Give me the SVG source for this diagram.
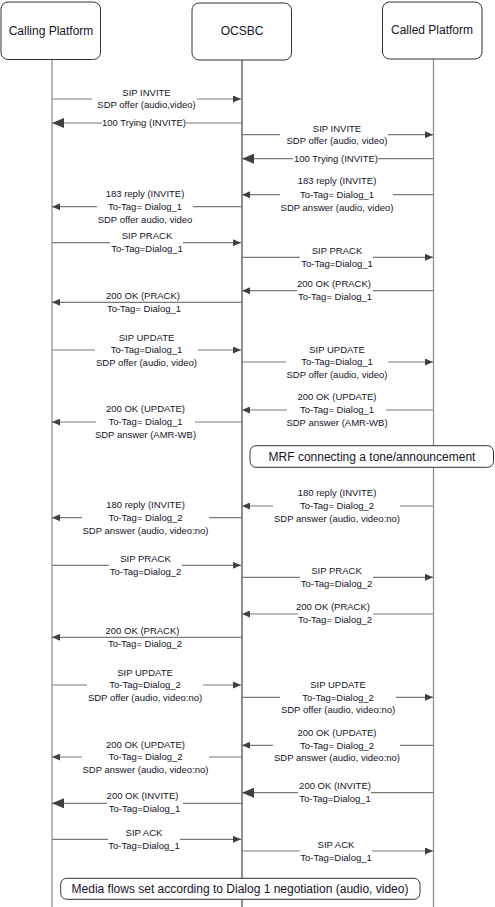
<svg xmlns="http://www.w3.org/2000/svg" width="495" height="907" viewBox="0 0 495 907">
<style>
.box{fill:#fff;stroke:#333;stroke-width:1}
.life{stroke:#8a8a8a;stroke-width:1.2;fill:none}
.lifec{stroke:#444;stroke-width:1.2;fill:none}
.msg{stroke:#7a7a7a;stroke-width:1.2;fill:none}
.s{marker-end:url(#as)}
.b{marker-end:url(#ab)}
text{font-family:"Liberation Sans",Arial,sans-serif;fill:#141428}
.t{font-size:9.5px;text-anchor:middle}
.h{font-size:12px;text-anchor:middle}
</style>
<defs>
<marker id="as" markerUnits="userSpaceOnUse" markerWidth="8" markerHeight="7" refX="8" refY="3.5" orient="auto"><path d="M0,0 L8,3.5 L0,7 z" fill="#404040"/></marker>
<marker id="ab" markerUnits="userSpaceOnUse" markerWidth="12" markerHeight="10" refX="12" refY="5" orient="auto"><path d="M0,0 L12,5 L0,10 z" fill="#404040"/></marker>
</defs>
<rect width="495" height="907" fill="#fff"/>
<g id="lifelines">
<line class="life" x1="52" y1="59.5" x2="52" y2="907"/>
<line class="lifec" x1="242" y1="60" x2="242" y2="907"/>
<line class="life" x1="433.5" y1="59" x2="433.5" y2="907"/>
</g>
<g id="calling"><rect class="box" x="1" y="2" width="99.5" height="57.5" rx="7"/><text class="h" x="51" y="35">Calling Platform</text></g>
<g id="ocsbc"><rect class="box" x="192" y="3" width="99.5" height="57" rx="7"/><text class="h" x="242" y="35.3">OCSBC</text></g>
<g id="called"><rect class="box" x="382.5" y="2" width="99.5" height="57" rx="7"/><text class="h" x="432" y="34.3">Called Platform</text></g>
<g id="connectors">
<path class="msg s" d="M52 99 H92 M197 99 H241"/>
<path class="msg b" d="M242 123 H186 M102 123 H52"/>
<path class="msg s" d="M242 134.7 H280 M388 134.7 H433"/>
<path class="msg b" d="M433 158.7 H378 M293 158.7 H242"/>
<path class="msg s" d="M433 194.7 H393 M280 194.7 H242"/>
<path class="msg s" d="M242 206.7 H193 M97 206.7 H52"/>
<path class="msg s" d="M52 242.7 H110 M183 242.7 H241"/>
<path class="msg s" d="M242 257.3 H300 M373 257.3 H433"/>
<path class="msg s" d="M433 290.7 H373 M297 290.7 H242"/>
<path class="msg s" d="M242 302.3 H52"/>
<path class="msg s" d="M52 350 H95 M198 350 H241"/>
<path class="msg s" d="M242 362 H286 M388 362 H433"/>
<path class="msg s" d="M433 410 H386 M287 410 H242"/>
<path class="msg s" d="M242 422 H195 M96 422 H52"/>
<path class="msg s" d="M433 506 H400 M273 506 H242"/>
<path class="msg s" d="M242 517.7 H209 M82 517.7 H52"/>
<path class="msg s" d="M52 565.3 H109 M182 565.3 H241"/>
<path class="msg s" d="M242 577.3 H300 M373 577.3 H433"/>
<path class="msg s" d="M433 614 H373 M298 614 H242"/>
<path class="msg s" d="M242 637.3 H52"/>
<path class="msg s" d="M52 685 H87 M203 685 H241"/>
<path class="msg s" d="M242 697.3 H280 M396 697.3 H433"/>
<path class="msg s" d="M433 745.3 H400 M273 745.3 H242"/>
<path class="msg s" d="M242 757 H209 M82 757 H52"/>
<path class="msg b" d="M433 792.7 H371 M298 792.7 H242"/>
<path class="msg b" d="M242 803.3 H183 M107 803.3 H52"/>
<path class="msg s" d="M52 839.3 H108 M180 839.3 H241"/>
<path class="msg s" d="M242 851 H300 M372 851 H433"/>
</g>
<g id="labels">
<text class="t" x="146.5" y="95.6">SIP INVITE</text>
<text class="t" x="146.5" y="108.3">SDP offer (audio,video)</text>
<text class="t" x="144" y="126.3">100 Trying (INVITE)</text>
<text class="t" x="337" y="131.6">SIP INVITE</text>
<text class="t" x="337" y="144">SDP offer (audio, video)</text>
<text class="t" x="336" y="162">100 Trying (INVITE)</text>
<text class="t" x="337" y="184.3">183 reply (INVITE)</text>
<text class="t" x="337" y="198">To-Tag= Dialog_1</text>
<text class="t" x="337" y="211">SDP answer (audio, video)</text>
<text class="t" x="145" y="196.6">183 reply (INVITE)</text>
<text class="t" x="145" y="210">To-Tag= Dialog_1</text>
<text class="t" x="145" y="222.6">SDP offer audio, video</text>
<text class="t" x="147" y="239">SIP PRACK</text>
<text class="t" x="147" y="251.6">To-Tag=Dialog_1</text>
<text class="t" x="337" y="253.6">SIP PRACK</text>
<text class="t" x="337" y="266.6">To-Tag=Dialog_1</text>
<text class="t" x="334" y="286.6">200 OK (PRACK)</text>
<text class="t" x="335" y="300">To-Tag= Dialog_1</text>
<text class="t" x="143" y="299">200 OK (PRACK)</text>
<text class="t" x="144" y="312.3">To-Tag= Dialog_1</text>
<text class="t" x="146.5" y="340.6">SIP UPDATE</text>
<text class="t" x="146.5" y="353.3">To-Tag=Dialog_1</text>
<text class="t" x="146.5" y="366">SDP offer (audio, video)</text>
<text class="t" x="337" y="352.6">SIP UPDATE</text>
<text class="t" x="337" y="365.3">To-Tag=Dialog_1</text>
<text class="t" x="337" y="377.6">SDP offer (audio, video)</text>
<text class="t" x="337" y="400">200 OK (UPDATE)</text>
<text class="t" x="337" y="413.3">To-Tag= Dialog_1</text>
<text class="t" x="337" y="425.6">SDP answer (AMR-WB)</text>
<text class="t" x="145.5" y="412.3">200 OK (UPDATE)</text>
<text class="t" x="145.5" y="425.3">To-Tag= Dialog_1</text>
<text class="t" x="145.5" y="438.3">SDP answer (AMR-WB)</text>
<text class="t" x="337" y="496">180 reply (INVITE)</text>
<text class="t" x="337" y="509.3">To-Tag= Dialog_2</text>
<text class="t" x="337" y="521.6">SDP answer (audio, video:no)</text>
<text class="t" x="145.5" y="507.6">180 reply (INVITE)</text>
<text class="t" x="145.5" y="521">To-Tag= Dialog_2</text>
<text class="t" x="145.5" y="534.3">SDP answer (audio, video:no)</text>
<text class="t" x="145.5" y="562">SIP PRACK</text>
<text class="t" x="145.5" y="575">To-Tag=Dialog_2</text>
<text class="t" x="336.5" y="573.6">SIP PRACK</text>
<text class="t" x="336.5" y="587">To-Tag=Dialog_2</text>
<text class="t" x="333" y="610">200 OK (PRACK)</text>
<text class="t" x="335" y="622.6">To-Tag= Dialog_2</text>
<text class="t" x="142.5" y="634">200 OK (PRACK)</text>
<text class="t" x="145" y="647">To-Tag= Dialog_2</text>
<text class="t" x="145" y="676">SIP UPDATE</text>
<text class="t" x="145" y="688.3">To-Tag=Dialog_2</text>
<text class="t" x="145" y="701">SDP offer (audio, video:no)</text>
<text class="t" x="338" y="687.6">SIP UPDATE</text>
<text class="t" x="338" y="700.6">To-Tag=Dialog_2</text>
<text class="t" x="338" y="713.3">SDP offer (audio, video:no)</text>
<text class="t" x="337" y="735.6">200 OK (UPDATE)</text>
<text class="t" x="337" y="748.6">To-Tag= Dialog_2</text>
<text class="t" x="337" y="761">SDP answer (audio, video:no)</text>
<text class="t" x="145.5" y="747.6">200 OK (UPDATE)</text>
<text class="t" x="145.5" y="760.3">To-Tag= Dialog_2</text>
<text class="t" x="145.5" y="772.6">SDP answer (audio, video:no)</text>
<text class="t" x="335" y="789">200 OK (INVITE)</text>
<text class="t" x="335" y="801.6">To-Tag=Dialog_1</text>
<text class="t" x="142.5" y="799.3">200 OK (INVITE)</text>
<text class="t" x="144.5" y="811.6">To-Tag=Dialog_1</text>
<text class="t" x="144" y="835.6">SIP ACK</text>
<text class="t" x="144" y="848.6">To-Tag=Dialog_1</text>
<text class="t" x="336" y="847.6">SIP ACK</text>
<text class="t" x="336" y="860.6">To-Tag=Dialog_1</text>
</g>
<g id="mrf"><rect class="box" x="250" y="445.7" width="243.5" height="21.6" rx="6"/><text class="h" x="372" y="461.2">MRF connecting a tone/announcement</text></g>
<g id="media"><rect class="box" x="60.7" y="878.3" width="359.3" height="21" rx="6"/><text class="h" x="240" y="892.8">Media flows set according to Dialog 1 negotiation (audio, video)</text></g>
</svg>
